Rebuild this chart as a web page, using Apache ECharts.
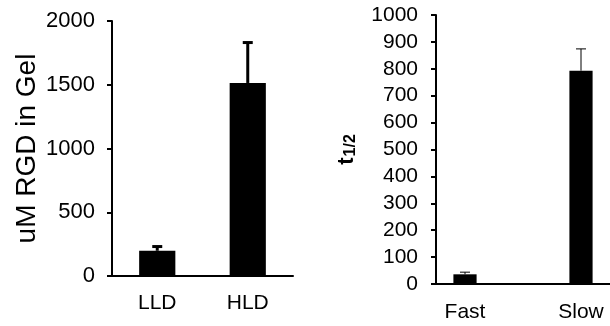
<!DOCTYPE html>
<html>
<head>
<meta charset="utf-8">
<script src="https://cdn.jsdelivr.net/npm/echarts@6/dist/echarts.min.js"></script>
<style>
  html, body { margin: 0; padding: 0; background: #fff; }
  #chart { width: 610px; height: 326px; }
</style>
</head>
<body>
<div id="chart"></div>
<script>
// Left panel: RGD concentration in gel
const gelCategories = ['LLD', 'HLD'];
const gelMeans = [198, 1514];
const gelErrors = [33, 317];
const gelTicks = [0, 500, 1000, 1500, 2000];

// Right panel: half-life (middle slot left empty as spacing)
const halfLifeCategories = ['Fast', '', 'Slow'];
const halfLifeMeans = [36, null, 793];
const halfLifeErrors = [8, null, 81];
const halfLifeTicks = [0, 100, 200, 300, 400, 500, 600, 700, 800, 900, 1000];

const FONT = '"Liberation Sans", Arial, Helvetica, sans-serif';

function errorData(means, errors) {
  const out = [];
  means.forEach((m, i) => {
    if (m != null && errors[i] != null) out.push([i, m, m + errors[i]]);
  });
  return out;
}

function errorRenderer(lineWidth, capWidth) {
  return function (params, api) {
    const x = api.value(0);
    const p0 = api.coord([x, api.value(1)]);
    const p1 = api.coord([x, api.value(2)]);
    const style = { stroke: '#000', lineWidth: lineWidth };
    return {
      type: 'group',
      children: [
        { type: 'line', shape: { x1: p0[0], y1: p0[1], x2: p1[0], y2: p1[1] }, style: style },
        { type: 'line', shape: { x1: p1[0] - capWidth / 2, y1: p1[1], x2: p1[0] + capWidth / 2, y2: p1[1] }, style: style }
      ]
    };
  };
}

function valueAxis(gridIndex, ticks, labelMargin, fontSize, name, nameGap, nameTextStyle) {
  return {
    type: 'value',
    gridIndex: gridIndex,
    min: ticks[0],
    max: ticks[ticks.length - 1],
    interval: ticks[1] - ticks[0],
    name: name,
    nameLocation: 'middle',
    nameGap: nameGap,
    nameRotate: 90,
    nameTextStyle: nameTextStyle,
    axisLine: { show: true, lineStyle: { color: '#000', width: 2 } },
    axisTick: { show: true, inside: false, length: 5, lineStyle: { color: '#000', width: 2 } },
    axisLabel: {
      margin: labelMargin, color: '#000', fontSize: fontSize, fontFamily: FONT,
      formatter: (v) => String(v)
    },
    splitLine: { show: false }
  };
}

function categoryAxis(gridIndex, cats, labelMargin) {
  return {
    type: 'category',
    gridIndex: gridIndex,
    data: cats,
    axisLine: { show: true, onZero: false, lineStyle: { color: '#000', width: 2 } },
    axisTick: { show: false },
    axisLabel: { margin: labelMargin, color: '#000', fontSize: 21, fontFamily: FONT, interval: 0 },
    splitLine: { show: false }
  };
}

const chart = echarts.init(document.getElementById('chart'), null, { renderer: 'canvas' });
chart.setOption({
  animation: false,
  backgroundColor: '#fff',
  grid: [
    { left: 112, top: 21, width: 181, height: 255 },
    { left: 436, top: 15, width: 178, height: 269 }
  ],
  xAxis: [categoryAxis(0, gelCategories, 17), categoryAxis(1, halfLifeCategories, 18)],
  yAxis: [
    valueAxis(0, gelTicks, 17, 22, 'uM RGD in Gel', 71,
      { color: '#000', fontSize: 28, fontFamily: FONT }),
    valueAxis(1, halfLifeTicks, 18, 21, '{t|t}{s|1/2}', 77,
      {
        rich: {
          t: { color: '#000', fontSize: 22, fontWeight: 'bold', fontFamily: FONT },
          s: { color: '#000', fontSize: 16, fontWeight: 'bold', fontFamily: FONT, padding: [8, 0, 0, 1] }
        }
      })
  ],
  series: [
    {
      type: 'bar', xAxisIndex: 0, yAxisIndex: 0,
      data: gelMeans, barWidth: '40%',
      itemStyle: { color: '#000' }
    },
    {
      type: 'custom', xAxisIndex: 0, yAxisIndex: 0,
      data: errorData(gelMeans, gelErrors),
      renderItem: errorRenderer(3, 10),
      z: 3
    },
    {
      type: 'bar', xAxisIndex: 1, yAxisIndex: 1,
      data: halfLifeMeans, barWidth: '40%',
      itemStyle: { color: '#000' }
    },
    {
      type: 'custom', xAxisIndex: 1, yAxisIndex: 1,
      data: errorData(halfLifeMeans, halfLifeErrors),
      renderItem: errorRenderer(1, 10),
      z: 3
    }
  ]
});
</script>
</body>
</html>
